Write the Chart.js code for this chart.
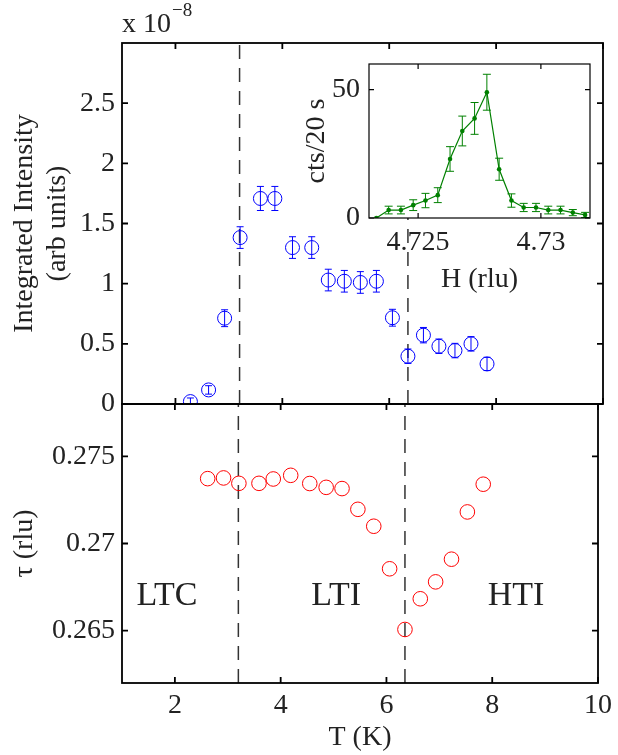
<!DOCTYPE html>
<html>
<head>
<meta charset="utf-8">
<script src="https://cdn.jsdelivr.net/npm/chart.js@4.4.0/dist/chart.umd.min.js"></script>
<style>
  html, body { margin: 0; padding: 0; background: #fff; }
  #wrap { position: relative; width: 618px; height: 755px; }
  #wrap canvas { position: absolute; left: 0; top: 0; }
</style>
</head>
<body>
<div id="wrap">
  <canvas id="tauChart" width="618" height="755"></canvas>
  <canvas id="intensityChart" width="618" height="755"></canvas>
  <canvas id="insetChart" width="618" height="755"></canvas>
</div>
<script>
// ---- data ----
// top panel: integrated intensity, units of 1e-8
var tempIntensity = [2.28, 2.62, 2.92, 3.21, 3.59, 3.86, 4.19, 4.55, 4.86, 5.16, 5.46, 5.76, 6.06, 6.35, 6.64, 6.93, 7.23, 7.53, 7.83];
var intensity = [0.02, 0.117, 0.713, 1.383, 1.708, 1.708, 1.30, 1.30, 1.03, 1.02, 1.01, 1.02, 0.717, 0.397, 0.572, 0.48, 0.444, 0.50, 0.333];
var intensityErr = [0.03, 0.035, 0.07, 0.09, 0.10, 0.10, 0.09, 0.09, 0.09, 0.09, 0.09, 0.09, 0.07, 0.06, 0.064, 0.06, 0.06, 0.06, 0.055];

// bottom panel: incommensurability tau
var tempTau = [2.62, 2.92, 3.21, 3.59, 3.86, 4.19, 4.55, 4.86, 5.16, 5.46, 5.76, 6.06, 6.35, 6.64, 6.93, 7.23, 7.53, 7.83];
var tau = [0.27372, 0.27376, 0.27345, 0.27345, 0.2737, 0.27391, 0.27344, 0.27322, 0.27315, 0.27196, 0.27099, 0.26855, 0.26507, 0.26683, 0.2678, 0.2691, 0.27181, 0.2734];

// inset: H scan
var hScan = [4.7233, 4.7238, 4.7243, 4.7248, 4.7253, 4.7258, 4.7263, 4.7268, 4.7273, 4.7278, 4.7283, 4.7288, 4.7293, 4.7298, 4.7303, 4.7308, 4.7313, 4.7318];
var counts = [0, 3.1, 3.1, 5.0, 6.8, 8.9, 23, 33.9, 38.8, 49, 19, 6.8, 4.1, 4.1, 3.1, 3.1, 2.1, 1.2];
var countsErr = [0, 1.5, 1.5, 2.1, 2.8, 2.9, 4.8, 5.8, 6.2, 7, 4.3, 2.6, 1.6, 1.6, 1.5, 1.5, 1.2, 1.0];

// ticks
var tTicks = [2, 4, 6, 8, 10];
var intensityTicks = [0, 0.5, 1, 1.5, 2, 2.5];
var tauTicks = [0.265, 0.27, 0.275];
var hTicks = [4.725, 4.73];
var countTicks = [0, 50];

// phase boundaries and region names
var phaseBounds = [3.2, 6.35];
var phaseNames = ['LTC', 'LTI', 'HTI'];
var phaseNameT = [1.85, 5.05, 8.45];
var phaseNameTau = 0.267;

var FONT = "'Liberation Serif', 'Times New Roman', serif";
var INK = '#222';
var FS = 28;

function pts(xs, ys) {
  return xs.map(function (x, i) { return { x: x, y: ys[i] }; });
}
function setTicks(list) {
  return function (scale) { scale.ticks = list.map(function (v) { return { value: v }; }); };
}
function fixWidth(w) { return function (scale) { scale.width = w; }; }
function fixHeight(h) { return function (scale) { scale.height = h; }; }

// box round the plot with inward ticks on all four sides
var frame = {
  id: 'frame',
  beforeDraw: function (chart, args, opts) {
    if (!opts.fill) return;
    var a = chart.chartArea, ctx = chart.ctx;
    ctx.save();
    ctx.fillStyle = opts.fill;
    ctx.fillRect(a.left, a.top, a.right - a.left, a.bottom - a.top);
    ctx.restore();
  },
  afterDraw: function (chart, args, opts) {
    var a = chart.chartArea, ctx = chart.ctx;
    var xs = chart.scales.x, ys = chart.scales.y, len = opts.tickLen || 5;
    ctx.save();
    ctx.strokeStyle = '#000';
    ctx.lineWidth = opts.width || 1;
    ctx.beginPath();
    xs.ticks.forEach(function (t) {
      var px = xs.getPixelForValue(t.value);
      ctx.moveTo(px, a.bottom); ctx.lineTo(px, a.bottom - len);
      ctx.moveTo(px, a.top); ctx.lineTo(px, a.top + len);
    });
    ys.ticks.forEach(function (t) {
      var py = ys.getPixelForValue(t.value);
      ctx.moveTo(a.left, py); ctx.lineTo(a.left + len, py);
      ctx.moveTo(a.right, py); ctx.lineTo(a.right - len, py);
    });
    ctx.stroke();
    ctx.strokeRect(a.left, a.top, a.right - a.left, a.bottom - a.top);
    ctx.restore();
  }
};

// vertical error bars with caps
var errorBars = {
  id: 'errorBars',
  afterDatasetsDraw: function (chart, args, opts) {
    if (!opts.err) return;
    var a = chart.chartArea, ctx = chart.ctx;
    var xs = chart.scales.x, ys = chart.scales.y;
    var data = chart.data.datasets[0].data;
    ctx.save();
    ctx.beginPath();
    ctx.rect(a.left, a.top, a.right - a.left, a.bottom - a.top);
    ctx.clip();
    ctx.strokeStyle = opts.color;
    ctx.lineWidth = 1;
    ctx.beginPath();
    data.forEach(function (p, i) {
      var e = opts.err[i];
      if (!e) return;
      var px = xs.getPixelForValue(p.x);
      var lo = ys.getPixelForValue(p.y - e), hi = ys.getPixelForValue(p.y + e);
      ctx.moveTo(px, lo); ctx.lineTo(px, hi);
      ctx.moveTo(px - opts.cap, lo); ctx.lineTo(px + opts.cap, lo);
      ctx.moveTo(px - opts.cap, hi); ctx.lineTo(px + opts.cap, hi);
    });
    ctx.stroke();
    ctx.restore();
  }
};

// dashed phase boundaries
var bounds = {
  id: 'bounds',
  beforeDatasetsDraw: function (chart, args, opts) {
    if (!opts.at) return;
    var ctx = chart.ctx, xs = chart.scales.x, ys = chart.scales.y;
    ctx.save();
    ctx.strokeStyle = '#333';
    ctx.lineWidth = 1.5;
    ctx.setLineDash([14, 9]);
    opts.at.forEach(function (t, i) {
      var px = xs.getPixelForValue(t);
      ctx.beginPath();
      ctx.moveTo(px, ys.getPixelForValue(ys.min));
      ctx.lineTo(px, ys.getPixelForValue(opts.upTo[i]));
      ctx.stroke();
    });
    ctx.restore();
  }
};

// free text: region names and exponent
var notes = {
  id: 'notes',
  afterDraw: function (chart, args, opts) {
    var ctx = chart.ctx, xs = chart.scales.x, ys = chart.scales.y;
    ctx.save();
    ctx.fillStyle = INK;
    if (opts.names) {
      ctx.font = '34px ' + FONT;
      ctx.textAlign = 'center';
      ctx.textBaseline = 'middle';
      opts.names.forEach(function (s, i) {
        ctx.fillText(s, xs.getPixelForValue(opts.xs[i]), ys.getPixelForValue(opts.y));
      });
    }
    if (opts.exponent) {
      var a = chart.chartArea;
      ctx.textAlign = 'left';
      ctx.textBaseline = 'alphabetic';
      ctx.font = FS + 'px ' + FONT;
      ctx.fillText('x 10', a.left, a.top - 11);
      var w = ctx.measureText('x 10').width;
      ctx.font = '19px ' + FONT;
      ctx.fillText('\u22128', w + a.left + 1, a.top - 27);
    }
    ctx.restore();
  }
};

function tickFont() { return { family: FONT, size: FS }; }
function label(v) { return String(v); }

// top panel
new Chart(document.getElementById('intensityChart'), {
  type: 'scatter',
  data: {
    datasets: [{
      data: pts(tempIntensity, intensity),
      pointStyle: 'circle',
      pointRadius: 7,
      borderColor: '#0000ff',
      backgroundColor: 'rgba(0,0,0,0)',
      borderWidth: 1,
      showLine: false
    }]
  },
  plugins: [frame, errorBars, bounds, notes],
  options: {
    responsive: false,
    animation: false,
    devicePixelRatio: 1,
    events: [],
    layout: { padding: { left: 0, top: 43, right: 15, bottom: 351 } },
    plugins: {
      legend: { display: false },
      tooltip: { enabled: false },
      frame: { width: 1.8, tickLen: 6 },
      errorBars: { err: intensityErr, color: '#0000ff', cap: 3.5 },
      bounds: { at: phaseBounds, upTo: [3, 1.6] },
      notes: { exponent: true }
    },
    scales: {
      x: {
        type: 'linear', min: 1, max: 10,
        afterBuildTicks: setTicks(tTicks),
        afterFit: fixHeight(0),
        grid: { display: false, drawTicks: false },
        border: { display: false },
        ticks: { display: false }
      },
      y: {
        type: 'linear', min: 0, max: 3,
        afterBuildTicks: setTicks(intensityTicks),
        afterFit: fixWidth(122),
        grid: { display: false, drawTicks: false },
        border: { display: false },
        ticks: { padding: 7, font: tickFont(), color: INK, callback: label },
        title: {
          display: true,
          text: ['Integrated Intensity', '(arb units)'],
          font: { family: FONT, size: FS, lineHeight: 1.15 },
          color: INK,
          padding: { top: 9, bottom: 0 }
        }
      }
    }
  }
});

// bottom panel
new Chart(document.getElementById('tauChart'), {
  type: 'scatter',
  data: {
    datasets: [{
      data: pts(tempTau, tau),
      pointStyle: 'circle',
      pointRadius: 7.3,
      borderColor: '#ff0000',
      backgroundColor: 'rgba(0,0,0,0)',
      borderWidth: 1,
      showLine: false
    }]
  },
  plugins: [frame, bounds, notes],
  options: {
    responsive: false,
    animation: false,
    devicePixelRatio: 1,
    events: [],
    layout: { padding: { left: 0, top: 404, right: 15, bottom: 0 } },
    plugins: {
      legend: { display: false },
      tooltip: { enabled: false },
      frame: { width: 1.8, tickLen: 6 },
      bounds: { at: phaseBounds, upTo: [0.278, 0.278] },
      notes: { names: phaseNames, xs: phaseNameT, y: phaseNameTau }
    },
    scales: {
      x: {
        type: 'linear', min: 1, max: 10,
        afterBuildTicks: setTicks(tTicks),
        afterFit: fixHeight(72),
        grid: { display: false, drawTicks: false },
        border: { display: false },
        ticks: { padding: 6, font: tickFont(), color: INK, callback: label, maxRotation: 0 },
        title: {
          display: true,
          text: 'T (K)',
          font: { family: FONT, size: FS, lineHeight: 1 },
          color: INK,
          padding: { top: 0, bottom: 3 }
        }
      },
      y: {
        type: 'linear', min: 0.262, max: 0.278,
        afterBuildTicks: setTicks(tauTicks),
        afterFit: fixWidth(122),
        grid: { display: false, drawTicks: false },
        border: { display: false },
        ticks: { padding: 7, font: tickFont(), color: INK, callback: label },
        title: {
          display: true,
          text: '\u03c4 (rlu)',
          font: { family: FONT, size: FS, lineHeight: 1.15 },
          color: INK,
          padding: { top: 9, bottom: 0 }
        }
      }
    }
  }
});

// inset
new Chart(document.getElementById('insetChart'), {
  type: 'scatter',
  data: {
    datasets: [{
      data: pts(hScan, counts),
      showLine: true,
      borderColor: '#008000',
      backgroundColor: '#008000',
      borderWidth: 1.2,
      pointRadius: 2.3,
      pointBorderWidth: 0,
      tension: 0
    }]
  },
  plugins: [frame, errorBars],
  options: {
    responsive: false,
    animation: false,
    devicePixelRatio: 1,
    events: [],
    layout: { padding: { left: 290, top: 64, right: 28, bottom: 457 } },
    plugins: {
      legend: { display: false },
      tooltip: { enabled: false },
      frame: { width: 1.2, tickLen: 5, fill: '#ffffff' },
      errorBars: { err: countsErr, color: '#008000', cap: 4 }
    },
    scales: {
      x: {
        type: 'linear', min: 4.723, max: 4.732,
        afterBuildTicks: setTicks(hTicks),
        afterFit: fixHeight(80),
        grid: { display: false, drawTicks: false },
        border: { display: false },
        ticks: { padding: 8, font: tickFont(), color: INK, callback: label, maxRotation: 0 },
        title: {
          display: true,
          text: 'H (rlu)',
          font: { family: FONT, size: FS, lineHeight: 1 },
          color: INK,
          padding: { top: 0, bottom: 4 }
        }
      },
      y: {
        type: 'linear', min: 0, max: 60,
        afterBuildTicks: setTicks(countTicks),
        afterFit: fixWidth(79),
        grid: { display: false, drawTicks: false },
        border: { display: false },
        ticks: { padding: 9, font: tickFont(), color: INK, callback: label },
        title: {
          display: true,
          text: 'cts/20 s',
          font: { family: FONT, size: FS, lineHeight: 1.15 },
          color: INK,
          padding: { top: 11, bottom: 0 }
        }
      }
    }
  }
});
</script>
</body>
</html>
